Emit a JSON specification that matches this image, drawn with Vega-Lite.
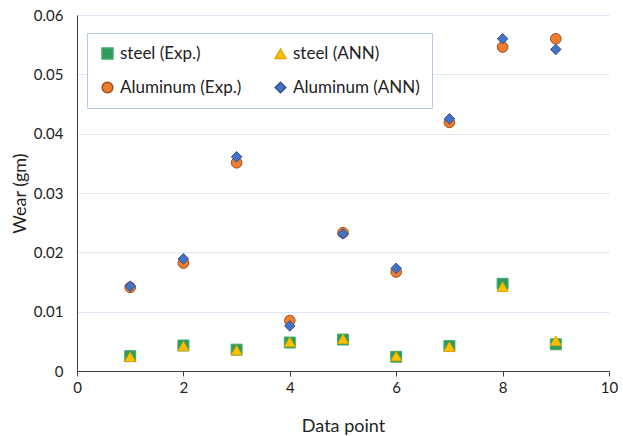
{
  "$schema": "https://vega.github.io/schema/vega-lite/v6.json",
  "width": 532,
  "height": 356,
  "autosize": {"type": "none"},
  "padding": {"left": 77, "top": 15, "right": 14, "bottom": 65},
  "background": "white",
  "config": {
    "view": {"stroke": null},
    "font": "Lato",
    "axis": {"labelFont": "Lato", "titleFont": "Lato", "labelColor": "#222222", "titleColor": "#222222", "titleFontWeight": "normal"}
  },
  "data": {
    "values": [
      {"point": 1, "series": "steel (Exp.)", "wear": 0.0025, "k": 1},
      {"point": 2, "series": "steel (Exp.)", "wear": 0.0043, "k": 1},
      {"point": 3, "series": "steel (Exp.)", "wear": 0.0036, "k": 1},
      {"point": 4, "series": "steel (Exp.)", "wear": 0.0048, "k": 1},
      {"point": 5, "series": "steel (Exp.)", "wear": 0.0053, "k": 1},
      {"point": 6, "series": "steel (Exp.)", "wear": 0.0024, "k": 1},
      {"point": 7, "series": "steel (Exp.)", "wear": 0.0042, "k": 1},
      {"point": 8, "series": "steel (Exp.)", "wear": 0.0147, "k": 1},
      {"point": 9, "series": "steel (Exp.)", "wear": 0.0045, "k": 1},
      {"point": 1, "series": "steel (ANN)", "wear": 0.0024, "k": 2},
      {"point": 2, "series": "steel (ANN)", "wear": 0.0042, "k": 2},
      {"point": 3, "series": "steel (ANN)", "wear": 0.0035, "k": 2},
      {"point": 4, "series": "steel (ANN)", "wear": 0.0049, "k": 2},
      {"point": 5, "series": "steel (ANN)", "wear": 0.0054, "k": 2},
      {"point": 6, "series": "steel (ANN)", "wear": 0.0025, "k": 2},
      {"point": 7, "series": "steel (ANN)", "wear": 0.0041, "k": 2},
      {"point": 8, "series": "steel (ANN)", "wear": 0.0142, "k": 2},
      {"point": 9, "series": "steel (ANN)", "wear": 0.0051, "k": 2},
      {"point": 1, "series": "Aluminum (Exp.)", "wear": 0.0141, "k": 3},
      {"point": 2, "series": "Aluminum (Exp.)", "wear": 0.0182, "k": 3},
      {"point": 3, "series": "Aluminum (Exp.)", "wear": 0.0351, "k": 3},
      {"point": 4, "series": "Aluminum (Exp.)", "wear": 0.0085, "k": 3},
      {"point": 5, "series": "Aluminum (Exp.)", "wear": 0.0233, "k": 3},
      {"point": 6, "series": "Aluminum (Exp.)", "wear": 0.0167, "k": 3},
      {"point": 7, "series": "Aluminum (Exp.)", "wear": 0.0419, "k": 3},
      {"point": 8, "series": "Aluminum (Exp.)", "wear": 0.0546, "k": 3},
      {"point": 9, "series": "Aluminum (Exp.)", "wear": 0.056, "k": 3},
      {"point": 1, "series": "Aluminum (ANN)", "wear": 0.0143, "k": 4},
      {"point": 2, "series": "Aluminum (ANN)", "wear": 0.0189, "k": 4},
      {"point": 3, "series": "Aluminum (ANN)", "wear": 0.0361, "k": 4},
      {"point": 4, "series": "Aluminum (ANN)", "wear": 0.0076, "k": 4},
      {"point": 5, "series": "Aluminum (ANN)", "wear": 0.0231, "k": 4},
      {"point": 6, "series": "Aluminum (ANN)", "wear": 0.0173, "k": 4},
      {"point": 7, "series": "Aluminum (ANN)", "wear": 0.0425, "k": 4},
      {"point": 8, "series": "Aluminum (ANN)", "wear": 0.056, "k": 4},
      {"point": 9, "series": "Aluminum (ANN)", "wear": 0.0542, "k": 4}
    ]
  },
  "mark": {"type": "point", "filled": true, "opacity": 1, "strokeWidth": 1},
  "encoding": {
    "x": {
      "field": "point", "type": "quantitative",
      "scale": {"domain": [0, 10], "nice": false},
      "axis": {
        "title": "Data point", "titleFontSize": 18, "titlePadding": 22,
        "values": [0, 2, 4, 6, 8, 10], "labelFontSize": 15, "labelPadding": 4,
        "grid": false, "domainColor": "#404040", "tickColor": "#404040", "tickSize": 5,
        "labelFlush": false
      }
    },
    "y": {
      "field": "wear", "type": "quantitative",
      "scale": {"domain": [0, 0.06], "nice": false},
      "axis": {
        "title": "Wear (gm)", "titleFontSize": 18, "titlePadding": 4,
        "values": [0, 0.01, 0.02, 0.03, 0.04, 0.05, 0.06], "format": "~g",
        "labelFontSize": 15, "labelPadding": 14, "ticks": false,
        "grid": true, "gridColor": "#DEE8F4", "gridWidth": 1.2,
        "domainColor": "#404040", "labelFlush": false
      }
    },
    "color": {
      "field": "series", "type": "nominal",
      "scale": {
        "domain": ["steel (Exp.)", "steel (ANN)", "Aluminum (Exp.)", "Aluminum (ANN)"],
        "range": ["#2F9A5A", "#FFC000", "#ED7D31", "#4472C4"]
      },
      "legend": {
        "title": null, "orient": "none", "legendX": 10, "legendY": 18,
        "direction": "horizontal", "columns": 2, "columnPadding": 30, "rowPadding": 16,
        "labelFontSize": 17, "labelFont": "Lato", "labelColor": "#222222",
        "symbolSize": 100, "labelOffset": 4,
        "padding": 12, "strokeColor": "#B4C7E7", "fillColor": "white", "symbolOpacity": 1
      }
    },
    "stroke": {
      "field": "series", "type": "nominal",
      "scale": {
        "domain": ["steel (Exp.)", "steel (ANN)", "Aluminum (Exp.)", "Aluminum (ANN)"],
        "range": ["#3FAA6A", "#E0A800", "#9E4E1C", "#2F4F8F"]
      }
    },
    "shape": {
      "field": "series", "type": "nominal",
      "scale": {
        "domain": ["steel (Exp.)", "steel (ANN)", "Aluminum (Exp.)", "Aluminum (ANN)"],
        "range": ["square", "triangle-up", "circle", "diamond"]
      }
    },
    "size": {
      "field": "series", "type": "nominal",
      "scale": {
        "domain": ["steel (Exp.)", "steel (ANN)", "Aluminum (Exp.)", "Aluminum (ANN)"],
        "range": [120, 110, 120, 130]
      },
      "legend": null
    },
    "order": {"field": "k", "type": "quantitative"}
  }
}
